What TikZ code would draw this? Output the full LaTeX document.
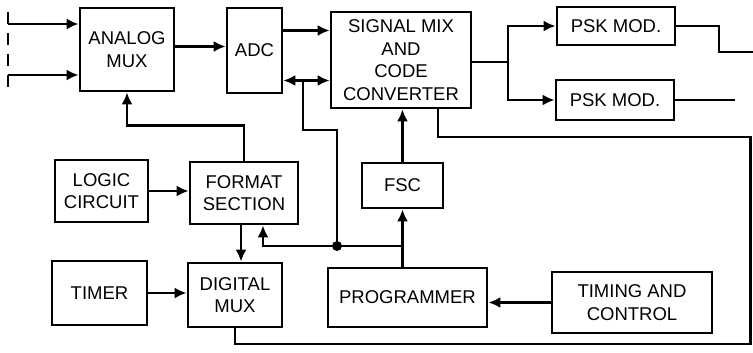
\documentclass[tikz,border=0pt]{standalone}
\usepackage{fontspec}
\setmainfont{Liberation Sans}
\usetikzlibrary{arrows.meta,calc}

\begin{document}
\begin{tikzpicture}[x=1pt,y=-1pt,line width=2.8pt,
  font=\fontsize{18.5}{22.5}\selectfont,
  blk/.style={draw,align=center,inner sep=0pt},
  sig/.style={-{Latex[length=12pt,width=11pt]}},
  both/.style={{Latex[length=12pt,width=11pt]}-{Latex[length=12pt,width=11pt]}}]
  \useasboundingbox (0,0) rectangle (753,353);
  % blocks of the encoder
  \foreach \n/\x/\y/\w/\h/\t in {AMUX/127/49.5/94/83/{ANALOG\\MUX},
      ADC/254.5/50.5/55/85/{ADC},
      SIG/401/60/140/96/{SIGNAL MIX\\AND\\CODE\\CONVERTER},
      PSKa/616/26/118/38/{PSK MOD.},
      PSKb/615/100/118/40/{PSK MOD.},
      LOGIC/101.5/191/93/62/{LOGIC\\CIRCUIT},
      FORMAT/244/193/108/62/{FORMAT\\SECTION},
      FSC/402.5/185.5/81/45/{FSC},
      TIMER/99.5/293/95/64/{TIMER},
      DMUX/235/295/94/64/{DIGITAL\\MUX},
      PROG/407.5/297.5/159/59/{PROGRAMMER},
      TC/632/302.5/160/61/{TIMING AND\\CONTROL}}
    \node[blk,minimum width=\w pt,minimum height=\h pt] (\n) at (\x,\y) {\t};

  % free ends and bends
  \coordinate (it) at (8,12);
  \coordinate (ib) at (8,89);
  \coordinate (ia) at (8,24);
  \coordinate (ic) at (8,75);
  \coordinate (dj) at (337,246);
  \coordinate (bk) at (303,130);
  \coordinate (sp) at (508,62);
  \coordinate (ka) at (719,52);
  \coordinate (oa) at (753,52);
  \coordinate (ob) at (735,100);
  \coordinate (rt) at (750.5,137);
  \coordinate (rb) at (750.5,344);

  % analog inputs
  \draw[dash pattern=on 12pt off 9pt] (it) -- (ib);
  \draw[sig] (ia) -- (ia -| AMUX.west);
  \draw[sig] (ic) -- (ic -| AMUX.west);

  % top row
  \draw[sig] ([yshift=3pt]AMUX.east) -- ([yshift=3pt]AMUX.east -| ADC.west);
  \draw[sig] ([yshift=20pt]ADC.east) -- ([yshift=20pt]ADC.east -| SIG.west);
  \draw[both] ([yshift=-30pt]ADC.east) coordinate (da) -- (da -| SIG.west);
  \draw (SIG.east |- sp) -- (sp);
  \draw[sig] (sp) |- (PSKa.west);
  \draw[sig] (sp) |- (PSKb.west);
  \draw (PSKa.east) -| (ka) -- (oa);
  \draw (PSKb.east) -- (ob);

  % control paths
  \draw[sig] (PROG.north -| FSC) -- (FSC.south);
  \draw[sig] (FSC.north) -- (FSC.north |- SIG.south);
  \draw[sig] (FSC |- dj) -- (dj) -| ([xshift=19pt]FORMAT.south);
  \draw (dj) |- (bk) -- (bk |- da);
  \fill (dj) circle (5pt);
  \draw[sig] (FORMAT.north) -- ++(0,-35) -| (AMUX.south);
  \draw[sig] (LOGIC.east) -- (LOGIC.east -| FORMAT.west);
  \draw[sig] ([xshift=-3pt]FORMAT.south) -- ([xshift=-3pt]FORMAT.south |- DMUX.north);
  \draw[sig] (TIMER.east) -- (TIMER.east -| DMUX.west);
  \draw[sig] (TC.west) -- (TC.west -| PROG.east);

  % loop from digital mux back to the mixer
  \draw ([xshift=37pt]SIG.south) |- (rt) -- (rb) -| (DMUX.south);
\end{tikzpicture}
\end{document}
